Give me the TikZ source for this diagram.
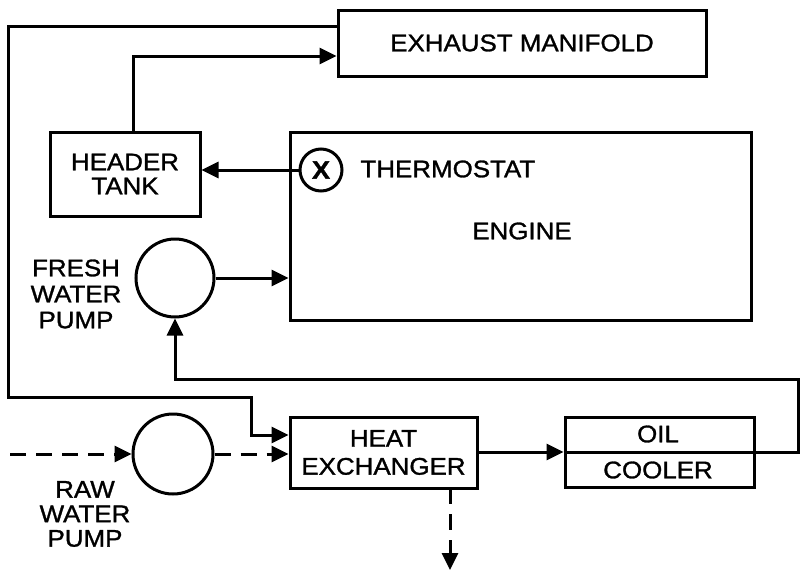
\documentclass[tikz,border=0pt]{standalone}
\usepackage{fontspec}
\setmainfont{Liberation Sans}[FakeStretch=1.08,FakeBold=1.2]
\usetikzlibrary{arrows.meta}
\begin{document}
\begin{tikzpicture}[x=1pt,y=-1pt,
  line width=3pt,
  every node/.style={font=\fontsize{24}{26}\selectfont, inner sep=0pt},
  box/.style={draw, rectangle, align=center},
  pumpc/.style={draw, circle},
  arr/.style={-{Triangle[length=17pt,width=16pt]}},
  dsh/.style={dash pattern=on 16pt off 10pt},
  lbl/.style={align=center}
]
\useasboundingbox (0,0) rectangle (804,573);

% boxes
\node[box, minimum width=368pt, minimum height=66pt] (exh) at (522,43) {EXHAUST MANIFOLD};
\node[box, minimum width=150pt, minimum height=84pt, font=\fontsize{24}{24}\selectfont] (hdr) at (125,174) {HEADER\\TANK};
\node[box, minimum width=461pt, minimum height=188pt] (eng) at (520.5,226) {};
\node (englbl) at (522,231) {ENGINE};
\node[pumpc, minimum size=42pt, font=\fontsize{25}{25}\selectfont\bfseries] (th) at (321,170) {X};
\node[anchor=west] (thlbl) at (359,169) {THERMOSTAT};
\node[pumpc, minimum size=78pt] (fwp) at (175,278) {};
\node[lbl, font=\fontsize{24}{26}\selectfont] (fwplbl) at (76,294) {FRESH\\WATER\\PUMP};
\node[box, minimum width=187pt, minimum height=71pt, font=\fontsize{24}{28}\selectfont] (hx) at (383.5,452.5) {HEAT\\EXCHANGER};
\node[box, minimum width=189pt, minimum height=70pt] (oc) at (659.5,452) {};
\node (oil) at (658,434) {OIL};
\node (cool) at (658,470) {COOLER};
\node[pumpc, minimum size=80pt] (rwp) at (173,454) {};
\node[lbl, font=\fontsize{24}{24.5}\selectfont] (rwplbl) at (85,514) {RAW\\WATER\\PUMP};

% coordinates
\coordinate (c1) at (8,26);
\coordinate (c2) at (8,397);
\coordinate (c3) at (251,397);
\coordinate (c4) at (251,435);
\coordinate (r1) at (798,452);
\coordinate (r2) at (798,379);
\coordinate (r3) at (175,379);
\coordinate (s0) at (10,454);
\coordinate (d1) at (450,488);
\coordinate (d2) at (450,570);

% connectors
\draw[arr] ([xshift=8pt]hdr.north) |- ([yshift=-13pt]exh.west);
\draw[arr] ([yshift=17pt]exh.west) -- (c1) -- (c2) -- (c3) -- (c4) -- (c4 -| hx.west);
\draw[arr] (th.west) -- (th.west -| hdr.east);
\draw[arr] (fwp.east) -- (fwp.east -| eng.west);
\draw[arr] (hx.east |- oc.west) -- (oc.west);
\draw[arr] (oc.west) -- (r1) -- (r2) -- (r3) -- (fwp.south);
\draw[arr, dsh] (s0) -- (rwp.west);
\draw[arr, dsh] (rwp.east) -- (rwp.east -| hx.west);
\draw[arr, dsh] (d1) -- (d2);
\end{tikzpicture}
\end{document}
